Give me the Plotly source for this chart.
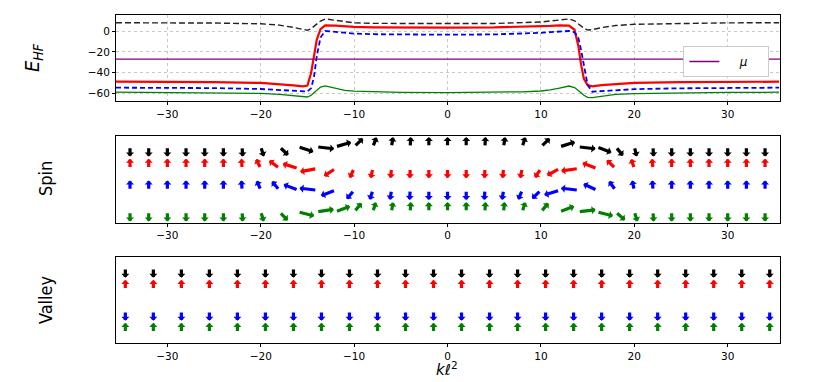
import numpy as np
import plotly.graph_objects as go

# Hartree-Fock band energies vs k l^2
k_e = [-35.5, -30, -25, -20, -18, -16.5, -15.5, -15.0, -14.6, -14.3, -14.0, -13.6, -13.1,
       -12, -11, -10, -8, -5, 0, 5, 8, 10, 11, 12, 13.0, 13.6, 14.0, 14.3, 14.6, 15.0,
       15.5, 16.5, 18, 20, 25, 30, 35.5]
e_black = [8.3, 8.3, 8.0, 7.3, 6.0, 3.8, 1.8, 1.0, 2.6, 4.6, 7.0, 10.0, 12.0,
           10.5, 9.0, 8.2, 7.7, 7.5, 7.5, 7.6, 8.0, 9.0, 10.0, 11.2, 12.0, 10.2, 7.2, 5.0, 3.0, 1.2,
           1.6, 3.6, 5.6, 6.8, 7.8, 8.2, 8.3]
e_red = [-48.8, -48.9, -49.2, -50.0, -51.0, -52.3, -53.3, -52.5, -40, -22, -8, 2, 5.8,
         5.5, 4.8, 4.3, 3.9, 3.7, 3.6, 3.8, 4.2, 4.8, 5.3, 5.8, 5.6, 1.5, -14, -32, -46, -52,
         -53.3, -52.2, -51.0, -50.0, -49.3, -49.0, -48.8]
e_blue = [-54.6, -54.7, -55.0, -55.9, -56.8, -57.6, -58.3, -58.3, -55, -44, -24, -6, 0.3,
          -0.5, -1.5, -2.2, -2.8, -3.2, -3.3, -3.0, -2.3, -1.5, -0.8, 0.0, 0.3, -1, -6, -18, -34, -52,
          -58.5, -57.8, -56.8, -56.0, -55.2, -54.8, -54.6]
e_green = [-59.0, -59.2, -59.5, -60.2, -61.0, -62.5, -63.8, -63.6, -62.0, -59.5, -57.0, -54.0, -52.8,
           -55.5, -57.2, -58.0, -58.7, -59.2, -59.4, -59.2, -58.6, -57.8, -56.8, -55.0, -53.0, -54.5,
           -57.0, -59.5, -62.0, -64.0, -64.2, -62.8, -61.0, -60.3, -59.5, -59.2, -59.0]
mu = -27.0

# spin texture: arrow angle (deg, 90 = up) per band
k_spin = [-34, -32, -30, -28, -26, -24, -22, -20, -18, -16, -14, -12, -10, -8, -6, -4, -2, 0,
          2, 4, 6, 8, 10, 12, 14, 16, 18, 20, 22, 24, 26, 28, 30, 32, 34]
spin_black = [-90, -90, -90, -90, -90, -90, -88, -80, -60, -30, -12, 28, 60, 78, 85, 88, 90, 90,
              90, 88, 85, 80, 60, 30, -12, -35, -65, -82, -88, -90, -90, -90, -90, -90, -90]
spin_red = [90, 90, 90, 90, 90, 90, 92, 105, 125, 150, -160, -130, -105, -97, -93, -91, -90, -90,
            -90, -91, -93, -97, -110, -135, -165, 145, 120, 100, 93, 90, 90, 90, 90, 90, 90]
spin_blue = [90, 90, 90, 90, 90, 90, 92, 103, 115, 145, 168, -145, -115, -100, -95, -92, -90, -90,
             -90, -92, -95, -103, -120, -150, 168, 140, 112, 97, 92, 90, 90, 90, 90, 90, 90]
spin_green = [-90, -90, -90, -90, -90, -90, -88, -80, -62, -25, 15, 35, 65, 80, 85, 88, 90, 90,
              90, 88, 87, 80, 65, 35, 12, -25, -58, -80, -88, -90, -90, -90, -90, -90, -90]

# valley texture
k_valley = [-34.5, -31.5, -28.5, -25.5, -22.5, -19.5, -16.5, -13.5, -10.5, -7.5, -4.5, -1.5,
            1.5, 4.5, 7.5, 10.5, 13.5, 16.5, 19.5, 22.5, 25.5, 28.5, 31.5, 34.5]
valley_black = [-90] * 24
valley_red = [90] * 24
valley_blue = [-90] * 24
valley_green = [90] * 24

band_colors = {"black": "black", "red": "#ff0000", "blue": "#0000ff", "green": "#008000"}
band_rows = {"black": 3, "red": 2, "blue": 1, "green": 0}

LX, LY = 1.9, 0.45
TICKFONT = dict(family="DejaVu Sans", size=10.5, color="black")
LABELFONT = "Liberation Sans Narrow, DejaVu Sans Condensed, Roboto Condensed, Liberation Sans"


def arrow_annotations(ks, angles, band, axis):
    out = []
    row = band_rows[band]
    for k, a in zip(ks, angles):
        t = np.radians(a)
        out.append(dict(
            x=k + LX * np.cos(t), y=row + LY * np.sin(t), ax=k, ay=row,
            xref="x" + axis, yref="y" + axis, axref="x" + axis, ayref="y" + axis,
            text="", showarrow=True, arrowhead=1, arrowsize=0.42, arrowwidth=3.2,
            arrowcolor=band_colors[band], standoff=0,
        ))
    return out


fig = go.Figure()
fig.add_trace(go.Scatter(x=k_e, y=e_black, mode="lines", showlegend=False,
                         line=dict(color="#222222", width=1.4, dash="6px,3px")))
fig.add_trace(go.Scatter(x=k_e, y=e_green, mode="lines", showlegend=False,
                         line=dict(color="#008000", width=1.3)))
fig.add_trace(go.Scatter(x=k_e, y=e_red, mode="lines", showlegend=False,
                         line=dict(color="#ff0000", width=2.2)))
fig.add_trace(go.Scatter(x=k_e, y=e_blue, mode="lines", showlegend=False,
                         line=dict(color="#0000ff", width=1.8, dash="5px,3px")))
fig.add_trace(go.Scatter(x=[-35.5, 35.6], y=[mu, mu], mode="lines",
                         name="\u00a0\u00a0\u00a0\u00a0<i>μ</i>\u00a0\u00a0\u00a0\u00a0",
                         line=dict(color="#800080", width=1.3)))
fig.add_trace(go.Scatter(x=[None], y=[None], xaxis="x2", yaxis="y2", showlegend=False))
fig.add_trace(go.Scatter(x=[None], y=[None], xaxis="x3", yaxis="y3", showlegend=False))

annotations = []
for band, angles in [("black", spin_black), ("red", spin_red), ("blue", spin_blue), ("green", spin_green)]:
    annotations += arrow_annotations(k_spin, angles, band, "2")
for band, angles in [("black", valley_black), ("red", valley_red), ("blue", valley_blue), ("green", valley_green)]:
    annotations += arrow_annotations(k_valley, angles, band, "3")

for text, px, py, size in [("<i>E</i><sub><i>HF</i></sub>", 33, 58, 20), ("Spin", 45, 179, 18),
                           ("Valley", 45, 300, 18)]:
    annotations.append(dict(text=text, x=(px - 116) / 664, y=1 - py / 382, xref="paper", yref="paper",
                            xanchor="center", yanchor="middle", textangle=-90, showarrow=False,
                            font=dict(family=LABELFONT, size=size, color="black")))
annotations.append(dict(text="<i>kℓ</i><sup>2</sup>", x=(447 - 116) / 664, y=1 - 369 / 382,
                        xref="paper", yref="paper", xanchor="center", yanchor="middle", showarrow=False,
                        font=dict(family="DejaVu Sans", size=15, color="black")))

xcommon = dict(range=[-35.5, 35.6], tickvals=[-30, -20, -10, 0, 10, 20, 30], ticks="outside",
               ticklen=3, tickcolor="black", tickfont=TICKFONT, showline=True, linecolor="black",
               linewidth=1, mirror=True, zeroline=False)
fig.update_layout(
    width=830, height=382,
    margin=dict(l=116, r=50, t=0, b=0),
    plot_bgcolor="white", paper_bgcolor="white",
    xaxis=dict(xcommon, anchor="y", showgrid=True, gridcolor="#c8c8c8", griddash="dot", gridwidth=1),
    yaxis=dict(domain=[1 - 101 / 382, 1 - 15 / 382], range=[-67.5, 15.8], tickvals=[0, -20, -40, -60],
               ticks="outside", ticklen=3, tickcolor="black", tickfont=TICKFONT, showline=True,
               linecolor="black", linewidth=1, mirror=True, zeroline=False, showgrid=True,
               gridcolor="#c8c8c8", griddash="dot", gridwidth=1),
    xaxis2=dict(xcommon, anchor="y2", showgrid=False),
    yaxis2=dict(domain=[1 - 222.7 / 382, 1 - 136 / 382], range=[-0.5, 3.5], showticklabels=False,
                ticks="", showgrid=False, showline=True, linecolor="black", linewidth=1, mirror=True,
                zeroline=False),
    xaxis3=dict(xcommon, anchor="y3", showgrid=False),
    yaxis3=dict(domain=[1 - 343.3 / 382, 1 - 257.3 / 382], range=[-0.5, 3.5], showticklabels=False,
                ticks="", showgrid=False, showline=True, linecolor="black", linewidth=1, mirror=True,
                zeroline=False),
    legend=dict(x=0.984, y=1 - 46 / 382, xanchor="right", yanchor="top", bgcolor="white",
                bordercolor="#cccccc", borderwidth=1, font=dict(family="DejaVu Sans", size=12, color="black")),
    annotations=annotations,
)

fig.write_html("out.html", config={"displayModeBar": False},
               post_script="document.body.style.margin = '0';")
